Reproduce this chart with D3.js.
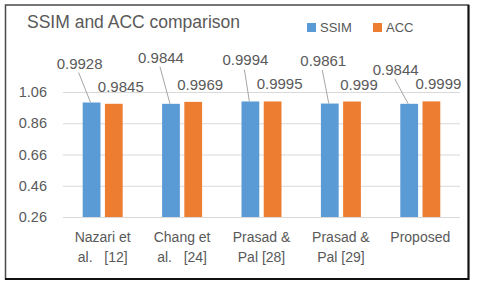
<!DOCTYPE html>
<html>
<head>
<meta charset="utf-8">
<script src="https://cdn.jsdelivr.net/npm/d3@7"></script>
<style>
  body { margin: 0; background: #fff; }
  text { font-family: "Liberation Sans", Arial, sans-serif; fill: #595959; }
</style>
</head>
<body>
<div id="chart"></div>
<script>
// chart data
var categories = [["Nazari et", "al.   [12]"], ["Chang et", "al.   [24]"], ["Prasad &", "Pal [28]"], ["Prasad &", "Pal [29]"], ["Proposed"]];
var seriesNames = ["SSIM", "ACC"];
var ssimValues = [0.9928, 0.9844, 0.9994, 0.9861, 0.9844];
var accValues = [0.9845, 0.9969, 0.9995, 0.999, 0.9999];
var yTicks = [0.26, 0.46, 0.66, 0.86, 1.06];

var colors = { SSIM: "#5B9BD5", ACC: "#ED7D31" };

// SSIM labels were dragged by hand in the original, offsets from bar top
var ssimLabelShift = [[-12, -34], [-10, -41], [-5, -36], [-6.5, -37.5], [-13.5, -29]];

var svgWidth = 480;
var svgHeight = 285;

var plot = { left: 63, right: 460, top: 92, bottom: 217 };

var svg = d3.select("#chart")
  .append("svg")
  .attr("width", svgWidth)
  .attr("height", svgHeight);

// frame round the chart
svg.append("rect")
  .attr("x", 5.5)
  .attr("y", 5)
  .attr("width", 463)
  .attr("height", 274)
  .attr("fill", "none")
  .attr("stroke", "#4a4a4a")
  .attr("stroke-width", 1.5);

svg.append("path")
  .attr("d", "M468.5,5 V279 H5")
  .attr("fill", "none")
  .attr("stroke", "#111")
  .attr("stroke-width", 2);

// scales
var catIndex = d3.range(categories.length);

var x0 = d3.scaleBand()
  .domain(catIndex)
  .range([plot.left, plot.right]);

var x1 = d3.scaleBand()
  .domain(seriesNames)
  .range([x0.bandwidth() / 2 - 20, x0.bandwidth() / 2 + 20])
  .paddingInner(0.2);

var y = d3.scaleLinear()
  .domain([yTicks[0], yTicks[yTicks.length - 1]])
  .range([plot.bottom, plot.top]);

// gridlines + y labels
var yAxis = d3.axisLeft(y)
  .tickValues(yTicks)
  .tickSize(-(plot.right - plot.left))
  .tickPadding(16)
  .tickFormat(d3.format(".2f"));

var yG = svg.append("g")
  .attr("transform", `translate(${plot.left},0)`)
  .call(yAxis);

yG.select(".domain").remove();
yG.selectAll(".tick line").attr("stroke", "#D9D9D9").attr("stroke-width", 1);
yG.selectAll(".tick text")
  .attr("font-size", "14.5px")
  .attr("fill", "#595959")
  .attr("font-family", "Liberation Sans, Arial, sans-serif");

// bars
var rows = catIndex.map(function(i) {
  return [{ key: "SSIM", value: ssimValues[i], i: i }, { key: "ACC", value: accValues[i], i: i }];
});

var groups = svg.selectAll("g.cat")
  .data(rows)
  .enter()
  .append("g")
  .attr("class", "cat")
  .attr("transform", (d, i) => `translate(${x0(i)},0)`);

groups.selectAll("rect")
  .data(d => d)
  .enter()
  .append("rect")
  .attr("x", d => x1(d.key))
  .attr("y", d => y(d.value))
  .attr("width", x1.bandwidth())
  .attr("height", d => y(yTicks[0]) - y(d.value))
  .attr("fill", d => colors[d.key]);

// x axis line
svg.append("line")
  .attr("x1", plot.left)
  .attr("x2", plot.right)
  .attr("y1", plot.bottom + 0.5)
  .attr("y2", plot.bottom + 0.5)
  .attr("stroke", "#D9D9D9");

// category labels
var catLabels = svg.selectAll("text.cat")
  .data(categories)
  .enter()
  .append("text")
  .attr("class", "cat")
  .attr("text-anchor", "middle")
  .attr("font-size", "14px")
  .style("white-space", "pre")
  .attr("transform", (d, i) => `translate(${x0(i) + x0.bandwidth() / 2},${plot.bottom + 25})`);

catLabels.selectAll("tspan")
  .data(d => d)
  .enter()
  .append("tspan")
  .attr("x", 0)
  .attr("y", (d, j) => j * 20)
  .text(d => d);

// ACC labels, outside end
catIndex.forEach(function(i) {
  var cx = x0(i) + x1("ACC") + x1.bandwidth() / 2;
  svg.append("text")
    .attr("x", cx + 7)
    .attr("y", y(accValues[i]) - 12)
    .attr("text-anchor", "middle")
    .attr("font-size", "15px")
    .text(accValues[i]);
});

// SSIM labels with leader lines
catIndex.forEach(function(i) {
  var cx = x0(i) + x1("SSIM") + x1.bandwidth() / 2;
  var top = y(ssimValues[i]);
  var lx = cx + ssimLabelShift[i][0];
  var ly = top + ssimLabelShift[i][1];

  svg.append("line")
    .attr("x1", lx - 1)
    .attr("y1", ly + 4)
    .attr("x2", cx - 1)
    .attr("y2", top)
    .attr("stroke", "#A6A6A6")
    .attr("stroke-width", 1);

  svg.append("text")
    .attr("x", lx)
    .attr("y", ly)
    .attr("text-anchor", "middle")
    .attr("font-size", "15px")
    .text(ssimValues[i]);
});

// title
svg.append("text")
  .attr("x", 27)
  .attr("y", 28)
  .attr("font-size", "17.5px")
  .text("SSIM and ACC comparison");

// legend
var legend = svg.selectAll("g.legend")
  .data(seriesNames)
  .enter()
  .append("g")
  .attr("class", "legend")
  .attr("transform", (d, i) => `translate(${307 + i * 66},23)`);

legend.append("rect")
  .attr("width", 9)
  .attr("height", 9)
  .attr("fill", d => colors[d]);

legend.append("text")
  .attr("x", 13)
  .attr("y", 9)
  .attr("font-size", "13px")
  .text(d => d);
</script>
</body>
</html>
